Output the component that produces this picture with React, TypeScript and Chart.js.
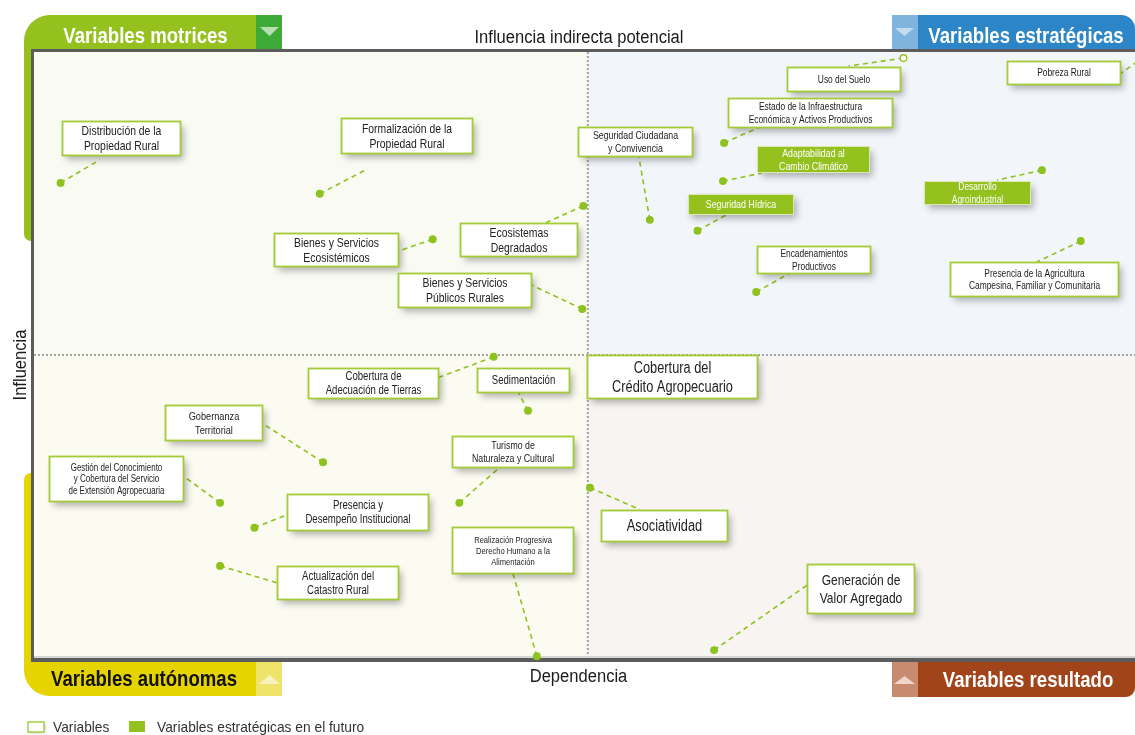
import React, { useEffect, useRef } from "react";
import { Chart, registerables } from "chart.js";

Chart.register(...registerables);

// ---- Data ----
const variables = [
  "Distribución de la\nPropiedad Rural",
  "Formalización de la\nPropiedad Rural",
  "Bienes y Servicios\nEcosistémicos",
  "Ecosistemas\nDegradados",
  "Bienes y Servicios\nPúblicos Rurales",
  "Seguridad Ciudadana\ny Convivencia",
  "Uso del Suelo",
  "Pobreza Rural",
  "Estado de la Infraestructura\nEconómica y Activos Productivos",
  "Adaptabilidad al\nCambio Climático",
  "Seguridad Hídrica",
  "Desarrollo\nAgroindustrial",
  "Encadenamientos\nProductivos",
  "Presencia de la Agricultura\nCampesina, Familiar y Comunitaria",
  "Cobertura de\nAdecuación de Tierras",
  "Sedimentación",
  "Gobernanza\nTerritorial",
  "Gestión del Conocimiento\ny Cobertura del Servicio\nde Extensión Agropecuaria",
  "Presencia y\nDesempeño Institucional",
  "Turismo de\nNaturaleza y Cultural",
  "Actualización del\nCatastro Rural",
  "Realización Progresiva\nDerecho Humano a la\nAlimentación",
  "Cobertura del\nCrédito Agropecuario",
  "Asociatividad",
  "Generación de\nValor Agregado",
];

// Dependencia (x) and Influencia (y), 0-100 scale
const dependencia = [2.4, 25.8, 36.0, 49.6, 49.5, 55.6, 78.5, 100.3, 62.3, 62.2, 59.9, 91.0, 65.2, 94.5, 41.5, 44.6, 26.1, 16.8, 19.9, 38.4, 16.8, 45.4, 51.1, 50.2, 61.4];
const influencia = [78.4, 76.6, 69.1, 74.6, 57.6, 72.3, 99.0, 99.3, 85.0, 78.7, 70.5, 80.5, 60.4, 68.8, 49.7, 40.8, 32.3, 25.6, 21.5, 25.6, 15.2, 0.3, 47.2, 28.1, 1.3];

const estrategicasFuturo = ["Adaptabilidad al\nCambio Climático", "Seguridad Hídrica", "Desarrollo\nAgroindustrial"];
const puntosHuecos = ["Uso del Suelo"];

const quadrantTitles = ["Variables motrices", "Variables estratégicas", "Variables autónomas", "Variables resultado"];
const axisTitleTop = "Influencia indirecta potencial";
const axisTitleX = "Dependencia";
const axisTitleY = "Influencia";
const legendLabels = ["Variables", "Variables estratégicas en el futuro"];

// ---- Label layout (pixel offsets from each point): [boxDx, boxDy, boxW, boxH, anchorDx, anchorDy, fontSize]
const labelLayout = [
  [1, -62, 118, 34, 39, -23, 13],
  [21, -76, 131, 35, 48, -25, 13],
  [-159, -6, 124, 33, -35, 12, 13],
  [-123, 17, 117, 33, -38, 17, 13],
  [-184, -36, 133, 34, -51, -24, 13],
  [-72, -93, 114, 29, -11, -63, 11],
  [-117, 9, 113, 24, -55, 8, 10.5],
  [-138, 5, 113, 23, -24, 17, 10.5],
  [4, -45, 164, 29, 36, -16, 10.5],
  [34, -35, 112, 26, 39, -8, 11],
  [-9, -37, 105, 20, 29, -16, 11],
  [-118, 11, 106, 23, -45, 10, 10.5],
  [1, -46, 113, 27, 34, -19, 10.5],
  [-131, 21, 168, 34, -44, 21, 10.5],
  [-186, 11, 130, 30, -56, 21, 12],
  [-51, -43, 92, 24, -10, -19, 12],
  [-158, -57, 97, 35, -61, -39, 11.5],
  [-171, -47, 134, 45, -37, -27, 10],
  [33, -34, 141, 36, 33, -13, 12],
  [-7, -67, 121, 31, 41, -36, 11],
  [57, 0, 121, 33, 57, 17, 12],
  [-85, -129, 121, 46, -24, -83, 9.5],
  [-13, -17, 170, 43, 0, 0, 16],
  [11, 22, 126, 31, 50, 22, 16],
  [93, -86, 107, 49, 93, -65, 15],
];

const FONT = "'Liberation Sans', Arial, sans-serif";
const GREEN = "#8dc21f";
const BOX_BORDER = "#a3cb35";
const TEXT = "#222222";

function txt(ctx: CanvasRenderingContext2D, s: string, x: number, y: number, font: string, color: string, sx: number, align: CanvasTextAlign = "center") {
  ctx.save();
  ctx.font = font;
  ctx.fillStyle = color;
  ctx.textAlign = align;
  ctx.textBaseline = "alphabetic";
  ctx.translate(x, y);
  ctx.scale(sx, 1);
  ctx.fillText(s, 0, 0);
  ctx.restore();
}

function tri(ctx: CanvasRenderingContext2D, pts: number[][], color: string) {
  ctx.beginPath();
  ctx.moveTo(pts[0][0], pts[0][1]);
  ctx.lineTo(pts[1][0], pts[1][1]);
  ctx.lineTo(pts[2][0], pts[2][1]);
  ctx.closePath();
  ctx.fillStyle = color;
  ctx.fill();
}

const decorPlugin = {
  id: "decor",
  beforeDraw(chart: any) {
    const ctx: CanvasRenderingContext2D = chart.ctx;
    const { left, top, right, bottom } = chart.chartArea;
    const xs = chart.scales.x;
    const ys = chart.scales.y;
    const mx = xs.getPixelForValue(50);
    const my = ys.getPixelForValue(50);
    ctx.save();
    ctx.fillStyle = "#ffffff";
    ctx.fillRect(0, 0, chart.width, chart.height);

    // green band (motrices)
    ctx.fillStyle = "#95c11f";
    ctx.beginPath();
    ctx.moveTo(24 + 26, 15);
    ctx.lineTo(282, 15);
    ctx.lineTo(282, 50);
    ctx.lineTo(36, 50);
    ctx.lineTo(36, 241);
    ctx.lineTo(31, 241);
    ctx.arcTo(24, 241, 24, 234, 7);
    ctx.lineTo(24, 41);
    ctx.arcTo(24, 15, 50, 15, 26);
    ctx.closePath();
    ctx.fill();
    ctx.fillStyle = "#3eaa37";
    ctx.fillRect(256, 15, 26, 34);
    tri(ctx, [[260, 27], [279, 27], [269.5, 36]], "#b8dfb1");

    // yellow band (autonomas)
    ctx.fillStyle = "#e5d400";
    ctx.beginPath();
    ctx.moveTo(31, 473);
    ctx.lineTo(36, 473);
    ctx.lineTo(36, 660);
    ctx.lineTo(282, 660);
    ctx.lineTo(282, 696);
    ctx.lineTo(50, 696);
    ctx.arcTo(24, 696, 24, 670, 26);
    ctx.lineTo(24, 480);
    ctx.arcTo(24, 473, 31, 473, 7);
    ctx.closePath();
    ctx.fill();
    ctx.fillStyle = "#efe46a";
    ctx.fillRect(256, 662, 26, 34);
    tri(ctx, [[259, 684], [280, 684], [269.5, 675]], "#f8f2c0");

    // blue band (estrategicas)
    ctx.fillStyle = "#2b85c6";
    ctx.beginPath();
    ctx.moveTo(892, 15);
    ctx.lineTo(1121, 15);
    ctx.arcTo(1135, 15, 1135, 29, 14);
    ctx.lineTo(1135, 50);
    ctx.lineTo(892, 50);
    ctx.closePath();
    ctx.fill();
    ctx.fillStyle = "#7fb4df";
    ctx.fillRect(892, 15, 26, 34);
    tri(ctx, [[895, 28], [914, 28], [904.5, 36]], "#c3dcf0");

    // brown band (resultado)
    ctx.fillStyle = "#a1441a";
    ctx.beginPath();
    ctx.moveTo(892, 658);
    ctx.lineTo(1135, 658);
    ctx.lineTo(1135, 688);
    ctx.arcTo(1135, 697, 1126, 697, 9);
    ctx.lineTo(892, 697);
    ctx.closePath();
    ctx.fill();
    ctx.fillStyle = "#c88b6f";
    ctx.fillRect(892, 662, 26, 35);
    tri(ctx, [[894, 684], [915, 684], [904.5, 676]], "#eed6ca");

    // quadrant backgrounds
    ctx.fillStyle = "#f9faf2";
    ctx.fillRect(left, top, mx - left, my - top);
    ctx.fillStyle = "#f2f6fa";
    ctx.fillRect(mx, top, right - mx, my - top);
    ctx.fillStyle = "#fbfbf2";
    ctx.fillRect(left, my, mx - left, bottom - my);
    ctx.fillStyle = "#f7f4f1";
    ctx.fillRect(mx, my, right - mx, bottom - my);

    // midlines
    ctx.strokeStyle = "#a3a3a3";
    ctx.lineWidth = 2;
    ctx.setLineDash([2, 2]);
    ctx.beginPath();
    ctx.moveTo(mx, top);
    ctx.lineTo(mx, bottom);
    ctx.moveTo(left, my);
    ctx.lineTo(right, my);
    ctx.stroke();
    ctx.setLineDash([]);

    // frame
    ctx.fillStyle = "#d6d6d6";
    ctx.fillRect(left, bottom - 2, right - left, 2);
    ctx.fillStyle = "#5c5c5c";
    ctx.fillRect(left - 3, top - 3, right - left + 3, 3);
    ctx.fillRect(left - 3, top - 3, 3, bottom - top + 7);
    ctx.fillRect(left - 3, bottom, right - left + 3, 4);

    // band titles
    const hf = `bold 22px ${FONT}`;
    txt(ctx, quadrantTitles[0], 145.5, 43, hf, "#ffffff", 0.845);
    txt(ctx, quadrantTitles[1], 1026, 43, hf, "#ffffff", 0.845);
    txt(ctx, quadrantTitles[2], 144, 686, hf, "#111111", 0.845);
    txt(ctx, quadrantTitles[3], 1028, 687, hf, "#ffffff", 0.845);

    // axis titles
    const af = `18px ${FONT}`;
    txt(ctx, axisTitleTop, 579, 43, af, "#1a1a1a", 0.92);
    txt(ctx, axisTitleX, 578.5, 682, af, "#1a1a1a", 0.92);
    ctx.save();
    ctx.translate(26, 365);
    ctx.rotate(-Math.PI / 2);
    txt(ctx, axisTitleY, 0, 0, af, "#1a1a1a", 0.92);
    ctx.restore();

    // legend
    ctx.save();
    ctx.shadowColor = "rgba(0,0,0,0.25)";
    ctx.shadowBlur = 3;
    ctx.shadowOffsetX = 1;
    ctx.shadowOffsetY = 1;
    ctx.fillStyle = "#ffffff";
    ctx.fillRect(28, 722, 16, 10);
    ctx.restore();
    ctx.strokeStyle = "#a7cf4a";
    ctx.lineWidth = 1.5;
    ctx.strokeRect(28, 722, 16, 10);
    ctx.fillStyle = "#95c11f";
    ctx.fillRect(129, 721, 16, 11);
    const lf = `14.5px ${FONT}`;
    txt(ctx, legendLabels[0], 53, 732, lf, "#333333", 0.95, "left");
    txt(ctx, legendLabels[1], 157, 732, lf, "#333333", 0.95, "left");
    ctx.restore();
  },
  beforeDatasetsDraw(chart: any) {
    const ctx: CanvasRenderingContext2D = chart.ctx;
    const xs = chart.scales.x;
    const ys = chart.scales.y;
    ctx.save();
    ctx.strokeStyle = GREEN;
    ctx.lineWidth = 1.6;
    ctx.setLineDash([5, 4]);
    variables.forEach((_, i) => {
      const [, , , , ax, ay] = labelLayout[i];
      if (ax === 0 && ay === 0) return;
      const px = xs.getPixelForValue(dependencia[i]);
      const py = ys.getPixelForValue(influencia[i]);
      ctx.beginPath();
      ctx.moveTo(px, py);
      ctx.lineTo(px + ax, py + ay);
      ctx.stroke();
    });
    ctx.restore();
  },
  afterDatasetsDraw(chart: any) {
    const ctx: CanvasRenderingContext2D = chart.ctx;
    const xs = chart.scales.x;
    const ys = chart.scales.y;
    variables.forEach((name, i) => {
      const [dx, dy, w, h, , , fs] = labelLayout[i];
      const px = xs.getPixelForValue(dependencia[i]);
      const py = ys.getPixelForValue(influencia[i]);
      const bx = Math.round(px + dx) + 0.5;
      const by = Math.round(py + dy) + 0.5;
      const strategic = estrategicasFuturo.includes(name);
      ctx.save();
      ctx.shadowColor = "rgba(0,0,0,0.3)";
      ctx.shadowBlur = 7;
      ctx.shadowOffsetX = 3;
      ctx.shadowOffsetY = 4;
      ctx.fillStyle = strategic ? "#95c11f" : "#ffffff";
      ctx.fillRect(bx, by, w, h);
      ctx.restore();
      ctx.save();
      ctx.strokeStyle = strategic ? "#dbeab5" : BOX_BORDER;
      ctx.lineWidth = strategic ? 1 : 1.8;
      ctx.strokeRect(bx, by, w, h);
      ctx.restore();
      const lines = name.split("\n");
      const lh = fs * 1.17;
      const cx = bx + w / 2;
      const cy = by + h / 2;
      lines.forEach((ln, k) => {
        const y = cy - ((lines.length - 1) * lh) / 2 + k * lh + fs * 0.33;
        txt(ctx, ln, cx, y, `${fs}px ${FONT}`, strategic ? "#ffffff" : TEXT, 0.8);
      });
    });
  },
};

export default function App() {
  const ref = useRef<HTMLCanvasElement | null>(null);
  useEffect(() => {
    document.body.style.margin = "0";
    const canvas = ref.current!;
    const pointFill = variables.map((n) => (puntosHuecos.includes(n) ? "#ffffff" : GREEN));
    const chart = new Chart(canvas, {
      type: "scatter",
      data: {
        datasets: [
          {
            label: "Variables",
            data: dependencia.map((x, i) => ({ x, y: influencia[i] })),
            pointRadius: 3.3,
            pointHoverRadius: 3.3,
            pointBackgroundColor: pointFill,
            pointBorderColor: GREEN,
            pointBorderWidth: 1.3,
            clip: false as any,
          },
        ],
      },
      options: {
        responsive: false,
        animation: false,
        events: [],
        devicePixelRatio: 1,
        layout: { autoPadding: false, padding: { left: 34, top: 52, right: 0, bottom: 77 } },
        scales: {
          x: { type: "linear", min: 0, max: 99.4, display: false },
          y: { type: "linear", min: 0, max: 100, display: false },
        },
        plugins: { legend: { display: false }, tooltip: { enabled: false } },
      },
      plugins: [decorPlugin],
    });
    return () => chart.destroy();
  }, []);
  return (
    <div style={{ position: "fixed", left: 0, top: 0, width: 1135, height: 735, background: "#fff" }}>
      <canvas ref={ref} width={1135} height={735} style={{ display: "block", width: 1135, height: 735 }} />
    </div>
  );
}
